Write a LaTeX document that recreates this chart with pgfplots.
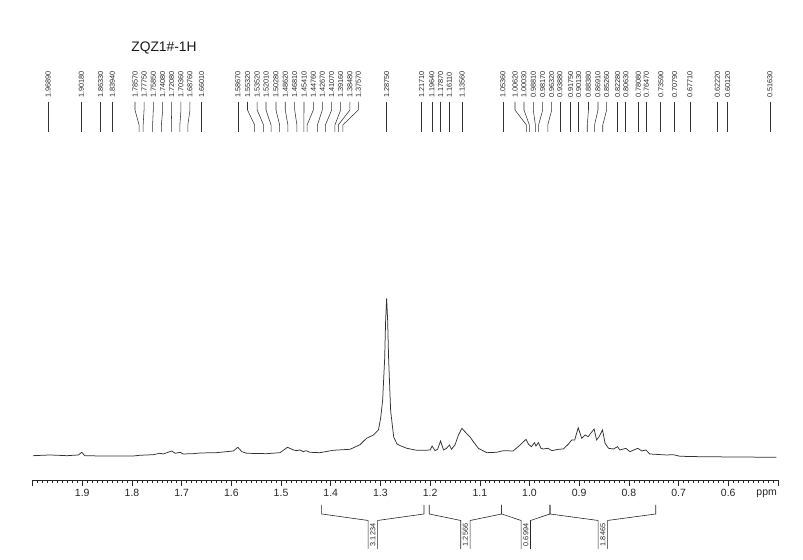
\documentclass[border=0pt]{standalone}
\usepackage{fontspec}
\setmainfont{Liberation Sans}
\usepackage{pgfplots}
\pgfplotsset{compat=1.18}

\tikzset{
  plab/.style={font=\fontsize{7.3}{8}\selectfont, rotate=90, anchor=west, inner sep=0pt, text=black!85},
  conn/.style={line width=0.55pt, black!80},
  intg/.style={line width=0.6pt, black!85},
  ilab/.style={font=\fontsize{7.3}{8}\selectfont, rotate=90, inner sep=0pt, text=black!85},
}

% 1H spectrum trace: ppm, height above the ruler
\pgfplotstableread{
ppm h
1.999 24.3
1.965 25.0
1.931 24.3
1.908 25.0
1.901 27.7
1.895 24.3
1.864 24.0
1.797 24.0
1.784 24.7
1.757 25.3
1.744 26.7
1.737 26.0
1.720 29.0
1.713 26.7
1.703 27.7
1.697 26.0
1.677 26.3
1.663 27.0
1.630 27.3
1.596 29.0
1.587 32.7
1.579 28.3
1.569 26.7
1.529 26.3
1.502 27.3
1.487 32.7
1.475 30.0
1.469 29.3
1.462 30.0
1.455 28.3
1.450 29.3
1.442 27.7
1.422 27.3
1.395 29.7
1.361 30.7
1.341 35.3
1.328 41.7
1.314 45.0
1.304 50.0
1.2995 62
1.2955 80
1.2915 121
1.2895 160
1.2875 181.7
1.2855 160
1.2835 121
1.2794 69
1.2733 43
1.2667 36
1.261 34.5
1.247 31.7
1.227 29.7
1.210 29.7
1.200 30.0
1.196 34.0
1.190 29.3
1.185 30.7
1.179 39.0
1.173 30.0
1.167 31.7
1.161 35.0
1.157 30.7
1.150 35.0
1.143 45.0
1.136 51.7
1.130 48.3
1.120 43.3
1.113 38.3
1.103 31.7
1.086 27.3
1.066 27.7
1.053 29.3
1.033 29.0
1.019 35.0
1.007 40.7
1.002 35.7
0.996 33.3
0.990 37.3
0.987 34.0
0.982 37.3
0.977 31.7
0.972 31.0
0.963 31.7
0.955 29.3
0.942 30.7
0.932 31.0
0.922 35.7
0.915 40.0
0.909 40.0
0.902 52.3
0.895 41.7
0.888 45.0
0.882 43.3
0.870 51.0
0.865 40.0
0.860 43.3
0.853 50.0
0.848 36.7
0.841 31.7
0.831 31.0
0.823 33.3
0.818 30.0
0.806 31.7
0.798 28.3
0.782 31.7
0.774 29.0
0.766 30.0
0.758 26.0
0.724 25.0
0.711 25.3
0.697 23.7
0.657 23.3
0.590 23.0
0.503 22.7
}\spectrum

\begin{document}
\begin{tikzpicture}
\begin{axis}[
  scale only axis, width=745.4pt, height=480pt,
  xmin=0.5, xmax=2.0, ymin=0, ymax=480,
  x dir=reverse,
  axis x line=bottom, axis y line=none,
  x axis line style={-, line width=0.6pt, black!85},
  xtick={0.5,0.6,0.7,0.8,0.9,1.0,1.1,1.2,1.3,1.4,1.5,1.6,1.7,1.8,1.9,2.0},
  xticklabels={,0.6,0.7,0.8,0.9,1.0,1.1,1.2,1.3,1.4,1.5,1.6,1.7,1.8,1.9,},
  minor x tick num=9,
  tick align=outside, major tick length=6pt, minor tick length=3pt,
  every tick/.style={black!85, line width=0.5pt},
  xticklabel style={font=\fontsize{10.5}{12}\selectfont, text=black!85},
  clip=false,
]
  % page extent
  \path (axis cs:2.0656,-80) rectangle (axis cs:0.4496,480);

  \addplot[black!80, line width=0.75pt, no marks] table[x=ppm, y=h] {\spectrum};

  \node[font=\fontsize{13.8}{16}\selectfont, text=black!90] at (axis cs:1.7356,432) {ZQZ1\#-1H};
  \node[font=\fontsize{10.5}{12}\selectfont, text=black!85] at (axis cs:0.5227,-13.3) {ppm};

  % peak picking labels: peak / label position
  \foreach \p/\l in {1.96890/1.96890, 1.90180/1.90180, 1.86330/1.86330, 1.83940/1.83940,
      1.78570/1.7939, 1.77750/1.7757, 1.75850/1.7571, 1.74080/1.7382, 1.72080/1.7201,
      1.70360/1.7014, 1.68760/1.6833, 1.66010/1.66010, 1.58670/1.58670,
      1.55320/1.5675, 1.53520/1.5480, 1.52010/1.5303, 1.50280/1.5102, 1.48620/1.4915,
      1.46810/1.4725, 1.45410/1.4538, 1.44760/1.4351, 1.42670/1.4170, 1.41070/1.3981,
      1.39160/1.3800, 1.38480/1.3613, 1.37570/1.3445, 1.28750/1.28750,
      1.21710/1.21710, 1.19640/1.19640, 1.17870/1.17870, 1.16110/1.16110, 1.13560/1.13560,
      1.05360/1.05360, 1.00620/1.0292, 1.00030/1.0111, 0.98810/0.9924, 0.98170/0.9735,
      0.96320/0.9553, 0.93880/0.93880, 0.91750/0.91750, 0.90130/0.90130, 0.88380/0.8813,
      0.86910/0.8622, 0.85260/0.8447, 0.82280/0.8228, 0.80630/0.8063, 0.78080/0.7808,
      0.76470/0.7647, 0.73590/0.7359, 0.70790/0.7079, 0.67710/0.6771, 0.62220/0.6222,
      0.60120/0.6012, 0.51630/0.5163} {
    \edef\tmp{\noexpand\draw[conn] (axis cs:\l,378) -- (axis cs:\l,370) -- (axis cs:\p,355) -- (axis cs:\p,348);
      \noexpand\node[plab] at (axis cs:\l,382) {\p};}
    \tmp
  }

  % integrals: left / right / box left / box right / centre / value
  \foreach \a/\b/\cl/\cr/\c/\v in {1.4182/1.2123/1.3247/1.3057/1.3152/3.1234,
      1.2017/1.0560/1.1384/1.1194/1.1289/1.2566,
      1.0560/0.9588/1.0169/0.9979/1.0074/0.6994,
      0.9588/0.7460/0.8619/0.8429/0.8524/1.8465} {
    \edef\tmp{\noexpand\draw[intg] (axis cs:\a,-25) -- (axis cs:\a,-34) -- (axis cs:\cl,-40.5) -- (axis cs:\cl,-69);
      \noexpand\draw[intg] (axis cs:\b,-25) -- (axis cs:\b,-34) -- (axis cs:\cr,-40.5) -- (axis cs:\cr,-69);
      \noexpand\node[ilab] at (axis cs:\c,-55) {\v};}
    \tmp
  }
\end{axis}
\end{tikzpicture}
\end{document}
